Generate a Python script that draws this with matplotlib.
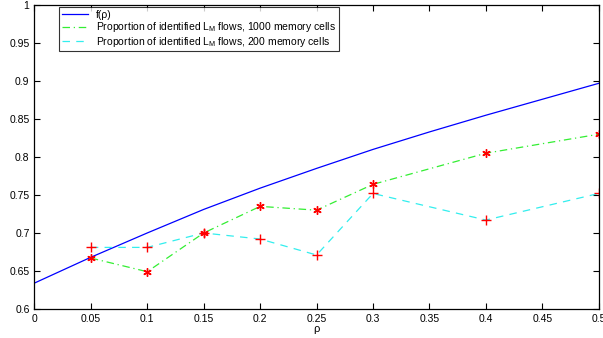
import matplotlib
matplotlib.use("Agg")
import matplotlib.pyplot as plt

plt.rcParams["font.family"] = ["Liberation Sans", "DejaVu Sans"]
plt.rcParams["mathtext.fontset"] = "custom"
plt.rcParams["mathtext.rm"] = "Liberation Sans"

# theoretical curve f(rho)
rho_f = [0.0, 0.05, 0.1, 0.15, 0.2, 0.25, 0.3, 0.35, 0.4, 0.45, 0.5]
f_rho = [0.634, 0.668, 0.700, 0.731, 0.759, 0.785, 0.810, 0.833, 0.855, 0.876, 0.897]

# measured proportions
rho = [0.05, 0.1, 0.15, 0.2, 0.25, 0.3, 0.4, 0.5]
prop_1000 = [0.667, 0.649, 0.700, 0.735, 0.730, 0.764, 0.805, 0.830]
prop_200 = [0.681, 0.681, 0.700, 0.692, 0.671, 0.752, 0.717, 0.752]

fig = plt.figure(figsize=(6.03, 3.38), dpi=100)
ax = fig.add_axes([0.057, 0.086, 0.936, 0.899])

ax.plot(rho_f, f_rho, color="blue", lw=0.9, label="f(ρ)")
ax.plot(rho, prop_1000, color="#33ee33", lw=0.9, ls=(0, (6, 3, 1, 3)),
        label=r"Proportion of identified L$_\mathregular{M}$ flows, 1000 memory cells")
ax.plot(rho, prop_200, color="#33eeee", lw=0.9, ls=(0, (6, 5)),
        label=r"Proportion of identified L$_\mathregular{M}$ flows, 200 memory cells")
ax.plot(rho, prop_1000, ls="none", marker=(6, 2, 0), color="red", ms=6, mew=1.0)
ax.plot(rho, prop_200, ls="none", marker="+", color="red", ms=6.5, mew=1.0)

ax.set_xlim(0, 0.5)
ax.set_ylim(0.6, 1.0)
ax.set_xticks([0, 0.05, 0.1, 0.15, 0.2, 0.25, 0.3, 0.35, 0.4, 0.45, 0.5])
ax.set_xticklabels(["0", "0.05", "0.1", "0.15", "0.2", "0.25", "0.3", "0.35", "0.4", "0.45", "0.5"])
ax.set_yticks([0.6, 0.65, 0.7, 0.75, 0.8, 0.85, 0.9, 0.95, 1.0])
ax.set_yticklabels(["0.6", "0.65", "0.7", "0.75", "0.8", "0.85", "0.9", "0.95", "1"])
ax.tick_params(direction="in", top=True, right=True, labelsize=7.5, length=4, width=0.8)
for s in ax.spines.values():
    s.set_linewidth(0.9)
ax.set_xlabel("ρ", fontsize=8, labelpad=0)

leg = ax.legend(loc="upper left", bbox_to_anchor=(0.04, 1.0), fontsize=7.5,
                frameon=True, fancybox=False, edgecolor="black",
                handlelength=2.5, borderpad=0.25, labelspacing=0.05, borderaxespad=0.2)
leg.get_frame().set_linewidth(0.8)

fig.savefig("out.png", dpi=100)
